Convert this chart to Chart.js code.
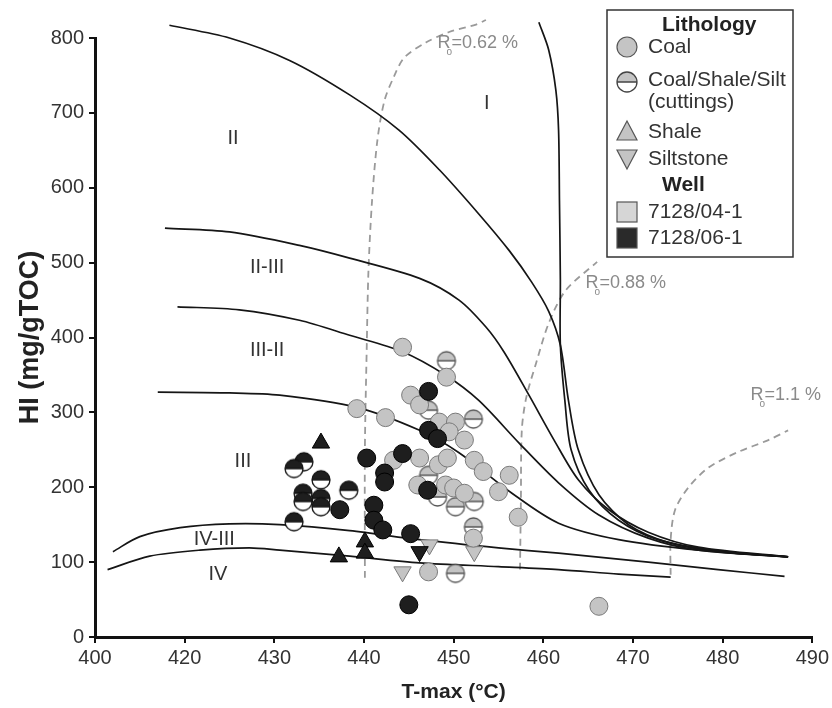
<!DOCTYPE html>
<html>
<head>
<meta charset="utf-8">
<script src="https://cdn.jsdelivr.net/npm/chart.js@4"></script>
<style>
  html, body { margin: 0; padding: 0; background: #fff; }
</style>
</head>
<body>
<canvas id="chart" width="832" height="708"></canvas>
<script>
// axis ticks (first tick is printed as "400" in the source figure)
const xTickLabels = ['400', '420', '430', '440', '450', '460', '470', '480', '490'];

// kerogen type boundaries [T-max, HI]
const curveI = [[459.5, 821], [460.6, 784], [461.4, 730], [461.7, 677], [461.8, 583], [461.9, 477], [461.9, 390], [462.4, 316], [463.1, 250], [465.1, 196], [468.4, 156], [472.8, 130], [479.5, 115], [487.3, 107]];
const curveII = [[418.3, 817], [425.0, 800], [431.7, 770], [438.4, 724], [443.9, 677], [448.4, 624], [452.8, 565], [456.2, 516], [458.7, 474], [460.6, 435], [461.9, 390], [462.8, 316], [463.9, 250], [466.2, 190], [469.5, 150], [474.0, 126], [479.5, 114], [487.3, 107]];
const curveIIIII = [[417.8, 546], [425.0, 541], [432.8, 523], [438.4, 506], [446.2, 479], [450.6, 450], [453.6, 414], [455.6, 381], [458.4, 323], [461.2, 263], [463.9, 210], [467.3, 170], [471.7, 140], [477.3, 120], [487.3, 107]];
const curveIIIII2 = [[419.2, 441], [426.1, 437], [432.8, 423], [438.4, 403], [444.3, 381], [449.2, 349], [452.8, 316], [457.3, 259], [461.7, 206], [466.2, 163], [471.7, 132], [477.3, 116], [487.3, 107]];
const curveIII = [[417.0, 327], [425.0, 326], [430.6, 323], [439.1, 307], [446.2, 276], [450.6, 246], [456.5, 192], [461.7, 152], [468.4, 130], [477.3, 116], [487.3, 107]];
const curveIVIII = [[412.0, 114], [415.0, 134], [419.5, 146], [425.0, 151], [430.6, 150], [438.4, 142], [446.2, 130], [455.0, 119], [461.7, 112], [471.7, 100], [479.5, 90], [486.9, 81]];
const curveIV = [[411.4, 90], [416.1, 108], [421.7, 116], [427.2, 119], [430.6, 116], [438.4, 108], [446.2, 99], [455.0, 94], [461.7, 90], [468.4, 84], [474.2, 80]];

// vitrinite reflectance lines
const ro062 = [[440.1, 79], [440.1, 250], [440.3, 383], [440.5, 490], [440.9, 583], [441.5, 664], [442.3, 717], [443.4, 750], [444.5, 774], [446.9, 794], [449.5, 808], [452.5, 818], [453.6, 824]];
const ro088 = [[457.4, 90], [457.5, 183], [457.6, 276], [458.1, 320], [459.2, 366], [460.6, 419], [462.5, 463], [466.0, 501]];
const ro11 = [[474.2, 83], [474.2, 130], [474.7, 170], [476.2, 200], [478.4, 226], [481.7, 247], [485.1, 263], [487.3, 276]];

// samples [T-max, HI]
const coal04 = [[444.3, 387], [449.2, 347], [445.2, 323], [446.2, 310], [439.2, 305], [442.4, 293], [448.4, 287], [450.2, 287], [449.5, 274], [451.2, 263], [446.2, 239], [443.3, 236], [448.3, 230], [449.3, 239], [452.3, 236], [453.3, 221], [456.2, 216], [446, 203], [449.1, 203], [450, 199], [451.2, 192], [455, 194], [457.2, 160], [452.2, 132], [447.2, 87], [466.2, 41]];
const cuttings04 = [[449.2, 369], [447.2, 303], [452.2, 291], [447.2, 216], [448.2, 187], [450.2, 174], [452.3, 181], [452.2, 147], [450.2, 85]];
const silt04 = [[447.3, 123], [452.3, 114], [444.3, 87]];
const coal06 = [[447.2, 328], [447.2, 276], [448.2, 265], [440.3, 239], [444.3, 245], [442.3, 219], [442.3, 207], [447.1, 196], [437.3, 170], [441.1, 176], [441.1, 156], [442.1, 143], [445.2, 138], [445, 43]];
const cuttings06 = [[433.3, 234], [432.2, 225], [435.2, 210], [433.2, 192], [435.2, 185], [438.3, 196], [433.2, 181], [432.2, 154], [435.2, 174]];
const shale06 = [[435.2, 259], [437.2, 107], [440.1, 127], [440.1, 112]];
const silt06 = [[446.2, 114]];

const regionLabels = [
  {text: 'I', x: 453.7, y: 713},
  {text: 'II', x: 425.4, y: 666},
  {text: 'II-III', x: 429.2, y: 493},
  {text: 'III-II', x: 429.2, y: 383},
  {text: 'III', x: 426.5, y: 234},
  {text: 'IV-III', x: 423.3, y: 130},
  {text: 'IV', x: 423.7, y: 83},
];
const roLabels = [
  {value: '=0.62 %', x: 448.2, y: 793},
  {value: '=0.88 %', x: 464.7, y: 473},
  {value: '=1.1 %', x: 483.1, y: 323},
];

const FONT = '"Liberation Sans", Arial, sans-serif';
const GRAY = '#c4c4c4';
const GRAY_EDGE = '#7a7a7a';
const DARK = '#1e1e1e';
const R = 9;

const toPts = (arr) => arr.map(([x, y]) => ({x, y}));

function cuttingsMarker(top, edge, r) {
  const size = Math.ceil(r * 2 + 4);
  const c = document.createElement('canvas');
  c.width = c.height = size;
  const ctx = c.getContext('2d');
  const cx = size / 2, cy = size / 2;
  ctx.beginPath();
  ctx.arc(cx, cy, r, 0, Math.PI * 2);
  ctx.fillStyle = '#fff';
  ctx.fill();
  ctx.beginPath();
  ctx.arc(cx, cy, r, Math.PI, 0);
  ctx.closePath();
  ctx.fillStyle = top;
  ctx.fill();
  ctx.beginPath();
  ctx.arc(cx, cy, r, 0, Math.PI * 2);
  ctx.moveTo(cx - r, cy);
  ctx.lineTo(cx + r, cy);
  ctx.strokeStyle = edge;
  ctx.lineWidth = 1.3;
  ctx.stroke();
  return c;
}

function curve(data, dashed) {
  return {
    data: toPts(data),
    showLine: true,
    pointRadius: 0,
    borderColor: dashed ? '#9a9a9a' : '#151515',
    borderWidth: dashed ? 1.8 : 1.7,
    borderDash: dashed ? [7, 5] : [],
    tension: 0.3,
    fill: false,
    clip: false,
    order: 10,
  };
}

function points(data, style, fill, edge, order, extra) {
  return Object.assign({
    data: toPts(data),
    showLine: false,
    pointStyle: style,
    pointRadius: R,
    backgroundColor: fill,
    borderColor: edge,
    borderWidth: 1,
    clip: false,
    order: order,
  }, extra || {});
}

const labelsPlugin = {
  id: 'labels',
  afterDatasetsDraw(chart) {
    const {ctx, scales: {x, y}} = chart;
    ctx.save();
    ctx.fillStyle = '#333';
    ctx.font = '20px ' + FONT;
    ctx.textAlign = 'center';
    ctx.textBaseline = 'middle';
    regionLabels.forEach((l) => ctx.fillText(l.text, x.getPixelForValue(l.x), y.getPixelForValue(l.y)));

    ctx.fillStyle = '#8a8a8a';
    ctx.textAlign = 'left';
    roLabels.forEach((l) => {
      const px = x.getPixelForValue(l.x), py = y.getPixelForValue(l.y);
      ctx.font = '18px ' + FONT;
      const w = ctx.measureText('R').width;
      ctx.fillText('R', px, py);
      ctx.fillText(l.value, px + w + 1, py);
      ctx.font = '10px ' + FONT;
      ctx.fillText('o', px + w - 4, py + 9);
    });
    ctx.restore();
  },
};

const legendPlugin = {
  id: 'boxLegend',
  afterDraw(chart) {
    const ctx = chart.ctx;
    const bx = 607, by = 10, bw = 186, bh = 247;
    const mx = 627, tx = 648;
    ctx.save();
    ctx.fillStyle = '#fff';
    ctx.fillRect(bx, by, bw, bh);
    ctx.strokeStyle = '#333';
    ctx.lineWidth = 1.5;
    ctx.strokeRect(bx, by, bw, bh);

    ctx.fillStyle = '#222';
    ctx.textBaseline = 'middle';
    ctx.font = 'bold 21px ' + FONT;
    ctx.fillText('Lithology', 662, 25);
    ctx.fillText('Well', 662, 185);

    ctx.font = '21px ' + FONT;
    ctx.fillStyle = '#333';
    ctx.fillText('Coal', tx, 47);
    ctx.fillText('Coal/Shale/Silt', tx, 80);
    ctx.fillText('(cuttings)', tx, 102);
    ctx.fillText('Shale', tx, 132);
    ctx.fillText('Siltstone', tx, 159);
    ctx.fillText('7128/04-1', tx, 212);
    ctx.fillText('7128/06-1', tx, 238);

    // markers
    ctx.lineWidth = 1.2;
    ctx.strokeStyle = '#555';
    ctx.fillStyle = GRAY;
    ctx.beginPath();
    ctx.arc(mx, 47, 10, 0, Math.PI * 2);
    ctx.fill();
    ctx.stroke();
    ctx.drawImage(cuttingsMarker(GRAY, '#444', 10), mx - 12, 82 - 12);

    ctx.beginPath();
    ctx.moveTo(mx, 121);
    ctx.lineTo(mx + 10, 140);
    ctx.lineTo(mx - 10, 140);
    ctx.closePath();
    ctx.fill();
    ctx.stroke();

    ctx.beginPath();
    ctx.moveTo(mx - 10, 150);
    ctx.lineTo(mx + 10, 150);
    ctx.lineTo(mx, 169);
    ctx.closePath();
    ctx.fill();
    ctx.stroke();

    ctx.fillStyle = '#d6d6d6';
    ctx.fillRect(mx - 10, 202, 20, 20);
    ctx.strokeRect(mx - 10, 202, 20, 20);
    ctx.fillStyle = '#2a2a2a';
    ctx.fillRect(mx - 10, 228, 20, 20);
    ctx.strokeRect(mx - 10, 228, 20, 20);
    ctx.restore();
  },
};

new Chart(document.getElementById('chart'), {
  type: 'scatter',
  data: {
    datasets: [
      curve(curveI), curve(curveII), curve(curveIIIII), curve(curveIIIII2),
      curve(curveIII), curve(curveIVIII), curve(curveIV),
      curve(ro062, true), curve(ro088, true), curve(ro11, true),
      points(coal04, 'circle', GRAY, GRAY_EDGE, 6),
      points(cuttings04, cuttingsMarker(GRAY, '#555', R), GRAY, GRAY_EDGE, 6),
      points(silt04, 'triangle', GRAY, GRAY_EDGE, 6, {pointRotation: 180, pointRadius: 10}),
      points(coal06, 'circle', DARK, '#000', 5),
      points(cuttings06, cuttingsMarker(DARK, '#111', R), DARK, '#000', 5),
      points(shale06, 'triangle', DARK, '#000', 5, {pointRadius: 10}),
      points(silt06, 'triangle', DARK, '#000', 5, {pointRotation: 180, pointRadius: 10}),
    ],
  },
  options: {
    responsive: false,
    animation: false,
    devicePixelRatio: 1,
    layout: {padding: {top: 38, right: 18, left: 0, bottom: 0}},
    plugins: {legend: {display: false}, tooltip: {enabled: false}},
    scales: {
      x: {
        type: 'linear',
        min: 410,
        max: 490,
        afterFit: (s) => { s.height = 71; },
        ticks: {
          stepSize: 10,
          autoSkip: false,
          maxRotation: 0,
          padding: 3,
          color: '#333',
          font: {family: FONT, size: 20},
          callback: (v, i) => xTickLabels[i],
        },
        grid: {drawOnChartArea: false, drawTicks: true, tickLength: 6, color: '#111', lineWidth: 2},
        border: {display: true, color: '#111', width: 3},
        title: {
          display: true,
          text: 'T-max (°C)',
          color: '#222',
          font: {family: FONT, size: 21, weight: 'bold'},
          padding: {top: 0, bottom: 3},
        },
      },
      y: {
        min: 0,
        max: 800,
        afterFit: (s) => { s.width = 95; },
        ticks: {
          stepSize: 100,
          padding: 5,
          color: '#333',
          font: {family: FONT, size: 20},
        },
        grid: {drawOnChartArea: false, drawTicks: true, tickLength: 6, color: '#111', lineWidth: 2},
        border: {display: true, color: '#111', width: 3},
        title: {
          display: true,
          text: 'HI (mg/gTOC)',
          color: '#222',
          font: {family: FONT, size: 27, weight: 'bold'},
          padding: {top: 14, bottom: 0},
        },
      },
    },
  },
  plugins: [labelsPlugin, legendPlugin],
});
</script>
</body>
</html>
